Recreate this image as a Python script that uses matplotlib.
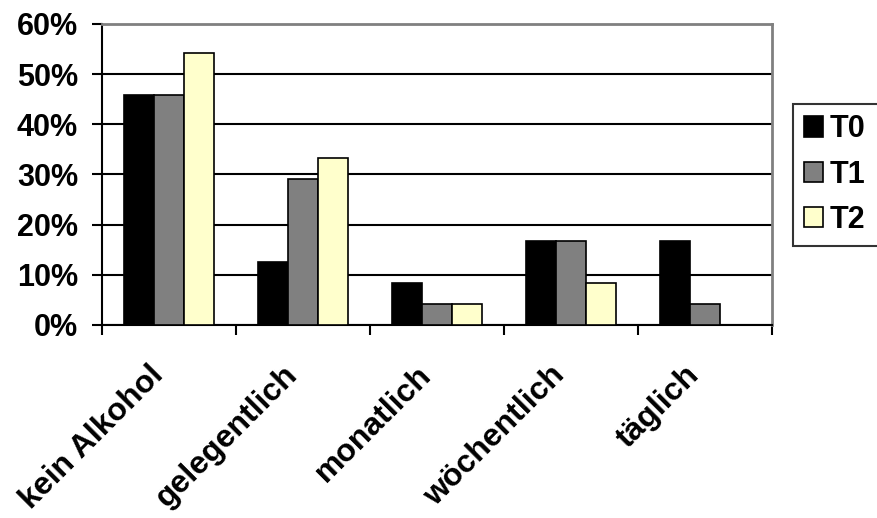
import matplotlib

matplotlib.use("Agg")
import matplotlib.pyplot as plt
import numpy as np
from matplotlib.ticker import PercentFormatter, FixedLocator

categories = ["kein Alkohol", "gelegentlich", "monatlich", "wöchentlich", "täglich"]
series = ["T0", "T1", "T2"]
t0 = [45.8, 12.5, 8.3, 16.7, 16.7]
t1 = [45.8, 29.2, 4.2, 16.7, 4.2]
t2 = [54.2, 33.3, 4.2, 8.3, 0.0]
colors = ["#000000", "#808080", "#ffffcc"]

plt.rcParams["font.family"] = ["Liberation Sans", "DejaVu Sans"]
plt.rcParams["font.weight"] = "bold"

fig = plt.figure(figsize=(8.77, 5.18), dpi=100)
ax = fig.add_axes([0.1163, 0.3726, 0.7637, 0.5811])

x = np.arange(len(categories))
w = 0.224
for i, (vals, c, name) in enumerate(zip([t0, t1, t2], colors, series)):
    ax.bar(x + (i - 1) * w, vals, width=w, color=c, edgecolor="black",
           linewidth=1.2, label=name, zorder=3)

ax.set_xlim(-0.5, len(categories) - 0.5)
ax.set_ylim(0, 60)
ax.set_yticks(np.arange(0, 61, 10))
ax.yaxis.set_major_formatter(PercentFormatter(decimals=0))
ax.grid(axis="y", color="black", linewidth=1.5, zorder=1)

# category boundaries carry the ticks, names sit at the centres
ax.xaxis.set_major_locator(FixedLocator(np.arange(-0.5, len(categories), 1.0)))
ax.set_xticklabels([])
ax.tick_params(axis="x", which="major", direction="out", length=7.2, width=1.5)
ax.tick_params(axis="y", direction="out", length=7.2, width=1.5,
               labelsize=22, pad=10)
for lab in ax.get_yticklabels():
    lab.set_fontweight("bold")

for xi, name in zip(x, categories):
    ax.annotate(name, xy=(xi, 0), xycoords=("data", "axes fraction"),
                xytext=(-15, -25), textcoords="offset points",
                rotation=45, ha="right", va="top", rotation_mode="anchor",
                fontsize=23, fontweight="bold")

for side in ["top", "right"]:
    ax.spines[side].set_color("#808080")
    ax.spines[side].set_linewidth(2)
for side in ["left", "bottom"]:
    ax.spines[side].set_color("black")
    ax.spines[side].set_linewidth(1.5)

# legend box runs past the right edge of the figure
leg = fig.legend(loc="upper left", bbox_to_anchor=(0.904, 0.5, 0.12, 0.3),
                 mode="expand",
                 frameon=True, fancybox=False, edgecolor="black",
                 prop={"size": 22, "weight": "bold"},
                 handlelength=0.65, handleheight=0.65, handletextpad=0.2,
                 labelspacing=0.5, borderpad=0.35, borderaxespad=0)
leg.get_frame().set_linewidth(1.5)

fig.savefig("out.png", dpi=100)
